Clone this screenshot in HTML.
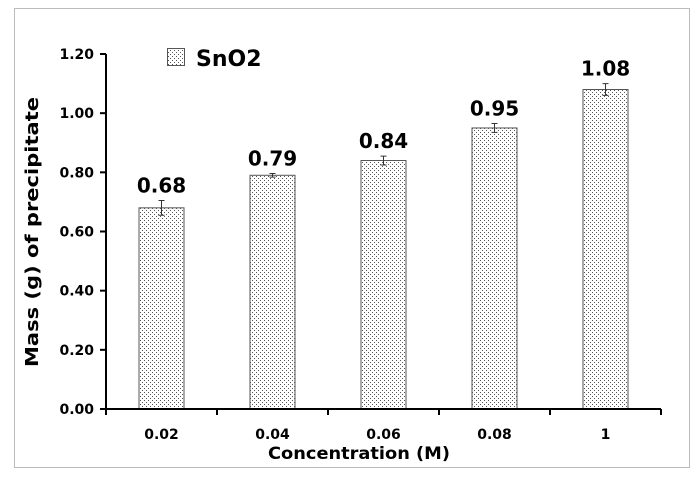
<!DOCTYPE html>
<html><head><meta charset="utf-8"><style>
body{margin:0;background:#fff;}
svg text{font-family:"DejaVu Sans","Liberation Sans",sans-serif;font-weight:bold;fill:#000;}
</style></head><body>
<svg id="c" width="699" height="481" xmlns="http://www.w3.org/2000/svg">
<defs><pattern id="dots" width="4" height="4" patternUnits="userSpaceOnUse">
<rect width="4" height="4" fill="#fff"/><rect x="0" y="0" width="1" height="1" fill="#555"/><rect x="2" y="2" width="1" height="1" fill="#555"/></pattern></defs>
<rect x="14.5" y="8.5" width="675" height="459" fill="#fff" stroke="#bbb"/>
<g id="plot"></g>
<text x="38" y="232" font-size="18" text-anchor="middle" textLength="270" lengthAdjust="spacingAndGlyphs" transform="rotate(-90 38 232)">Mass (g) of precipitate</text>
<text x="359" y="459" font-size="17" text-anchor="middle" textLength="182" lengthAdjust="spacingAndGlyphs">Concentration (M)</text>
<rect x="167.5" y="48.5" width="17" height="17" fill="url(#dots)" stroke="#555"/>
<text x="196" y="66" font-size="22">SnO2</text>
</svg>
<script>
const categories=["0.02","0.04","0.06","0.08","1"];
const values=[0.68,0.79,0.84,0.95,1.08];
const labels=["0.68","0.79","0.84","0.95","1.08"];
const errors=[0.025,0.006,0.015,0.015,0.02];
const yTicks=[0,0.2,0.4,0.6,0.8,1.0,1.2];
const X0=106,X1=661,Y0=409,Y1=54,YMAX=1.2;
const y=v=>Y0-(v/YMAX)*(Y0-Y1);
const bw=(X1-X0)/categories.length;
const x=i=>X0+bw*(i+0.5);
const g=document.getElementById('plot');
const NS="http://www.w3.org/2000/svg";
function mk(t,a){const e=document.createElementNS(NS,t);for(const k in a)e.setAttribute(k,a[k]);g.appendChild(e);return e;}
values.forEach((v,i)=>{
 const r=mk('rect',{x:x(i)-22.5,y:y(v),width:45,height:Y0-y(v),fill:'url(#dots)',stroke:'#555','stroke-width':1});
 
 
 const e=errors[i];
 const p=mk('path',{d:`M${x(i)} ${y(v+e)}V${y(v-e)}M${x(i)-3} ${y(v+e)}h6M${x(i)-3} ${y(v-e)}h6`,stroke:'#333','stroke-width':1,fill:'none'});
 
 
 const t=mk('text',{x:x(i),y:y(v+e)-8,'font-size':20,'text-anchor':'middle'});t.textContent=labels[i];
 
 
 const c=mk('text',{x:x(i),y:Y0+30,'font-size':14,'text-anchor':'middle'});c.textContent=categories[i];
 
 
});
for(let i=0;i<=categories.length;i++){
 const tk=mk('line',{x1:X0+bw*i,x2:X0+bw*i,y1:Y0,y2:Y0+6,stroke:'#000','stroke-width':2});
 
 
}
yTicks.forEach(v=>{
 const tk=mk('line',{x1:X0-6,x2:X0,y1:y(v),y2:y(v),stroke:'#000','stroke-width':2});
 
 
 const t=mk('text',{x:X0-12,y:y(v)+5,'font-size':14,'text-anchor':'end'});t.textContent=v.toFixed(2);
 
 
});
const ya=mk('line',{x1:X0,x2:X0,y1:Y1,y2:Y0,stroke:'#000','stroke-width':2});


const xa=mk('line',{x1:X0-6,x2:X1,y1:Y0,y2:Y0,stroke:'#000','stroke-width':2});


</script>
</body></html>
